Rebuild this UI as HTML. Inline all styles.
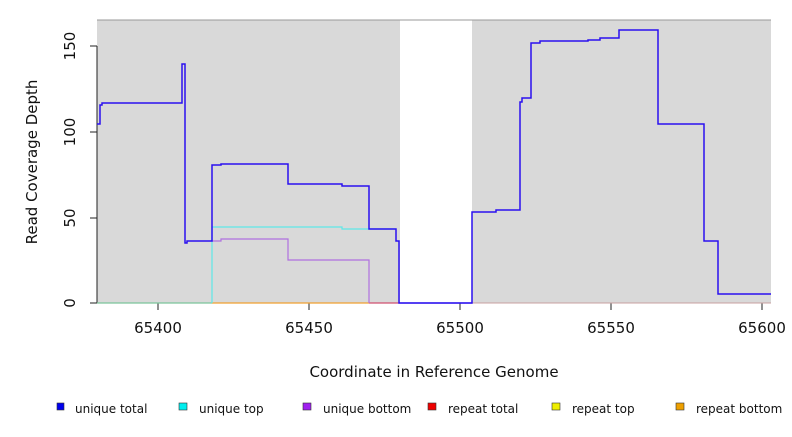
<!DOCTYPE html>
<html><head><style>
body{margin:0;background:#fff;}
svg text{font-family:"DejaVu Sans","Liberation Sans",sans-serif;}
</style></head><body>
<svg width="792" height="432" xmlns="http://www.w3.org/2000/svg">
<rect x="97" y="20" width="303" height="283" fill="#d9d9d9"/>
<rect x="472" y="20" width="299" height="283" fill="#d9d9d9"/>
<line x1="97" y1="20" x2="771" y2="20" stroke="#999" stroke-width="1"/>
<g stroke="#222" stroke-width="1">
<line x1="97" y1="46" x2="97" y2="303"/>
<line x1="90" y1="303" x2="97" y2="303"/>
<line x1="90" y1="218" x2="97" y2="218"/>
<line x1="90" y1="132" x2="97" y2="132"/>
<line x1="90" y1="46" x2="97" y2="46"/>
<line x1="158" y1="303" x2="158" y2="310"/>
<line x1="309" y1="303" x2="309" y2="310"/>
<line x1="460" y1="303" x2="460" y2="310"/>
<line x1="611" y1="303" x2="611" y2="310"/>
<line x1="762" y1="303" x2="762" y2="310"/>
</g>
<g font-size="15" fill="#111" text-anchor="middle">
<text transform="translate(75,303) rotate(-90)">0</text>
<text transform="translate(75,218) rotate(-90)">50</text>
<text transform="translate(75,132) rotate(-90)">100</text>
<text transform="translate(75,46) rotate(-90)">150</text>
<text x="158" y="333">65400</text>
<text x="309" y="333">65450</text>
<text x="460" y="333">65500</text>
<text x="611" y="333">65550</text>
<text x="762" y="333">65600</text>
<text x="434" y="377">Coordinate in Reference Genome</text>
<text transform="translate(37,162) rotate(-90)">Read Coverage Depth</text>
</g>
<line x1="97" y1="303" x2="212" y2="303" stroke="#7cc49a" stroke-width="1.2"/>
<line x1="212" y1="303" x2="369" y2="303" stroke="#f0a030" stroke-width="1.2"/>
<line x1="369" y1="303" x2="399" y2="303" stroke="#d05070" stroke-width="1.2"/>
<line x1="399" y1="303" x2="472" y2="303" stroke="#6040f0" stroke-width="1.2"/>
<line x1="472" y1="303" x2="771" y2="303" stroke="#c8a0a0" stroke-width="1"/>
<polyline fill="none" stroke="#5ee8e8" stroke-width="1.2" points="212,303 212,227 342,227 342,229 396,229"/>
<polyline fill="none" stroke="#b070e0" stroke-width="1.2" points="212,241 221,241 221,239 288,239 288,260 369,260 369,303"/>
<polyline fill="none" stroke="#2a10f0" stroke-width="1.5" points="97,124 100,124 100,105 102,105 102,103 182,103 182,64 185,64 185,243 187,243 187,241 212,241 212,165 221,165 221,164 288,164 288,184 342,184 342,186 369,186 369,229 396,229 396,241 399,241 399,303 472,303 472,212 496,212 496,210 520,210 520,102 522,102 522,98 531,98 531,43 540,43 540,41 588,41 588,40 600,40 600,38 619,38 619,30 658,30 658,124 704,124 704,241 718,241 718,294 771,294"/>
<g font-size="12" fill="#111">
<rect x="57" y="403" width="7" height="7" fill="#0000ee" stroke="#333" stroke-width="0.6"/><text x="75" y="413">unique total</text>
<rect x="179" y="403" width="8" height="7" fill="#00eeee" stroke="#333" stroke-width="0.6"/><text x="199" y="413">unique top</text>
<rect x="303" y="403" width="8" height="7" fill="#a020f0" stroke="#333" stroke-width="0.6"/><text x="323" y="413">unique bottom</text>
<rect x="428" y="403" width="8" height="7" fill="#ee0000" stroke="#333" stroke-width="0.6"/><text x="448" y="413">repeat total</text>
<rect x="552" y="403" width="8" height="7" fill="#eeee00" stroke="#333" stroke-width="0.6"/><text x="572" y="413">repeat top</text>
<rect x="676" y="403" width="8" height="7" fill="#eea000" stroke="#333" stroke-width="0.6"/><text x="696" y="413">repeat bottom</text>
</g>
</svg>
</body></html>
